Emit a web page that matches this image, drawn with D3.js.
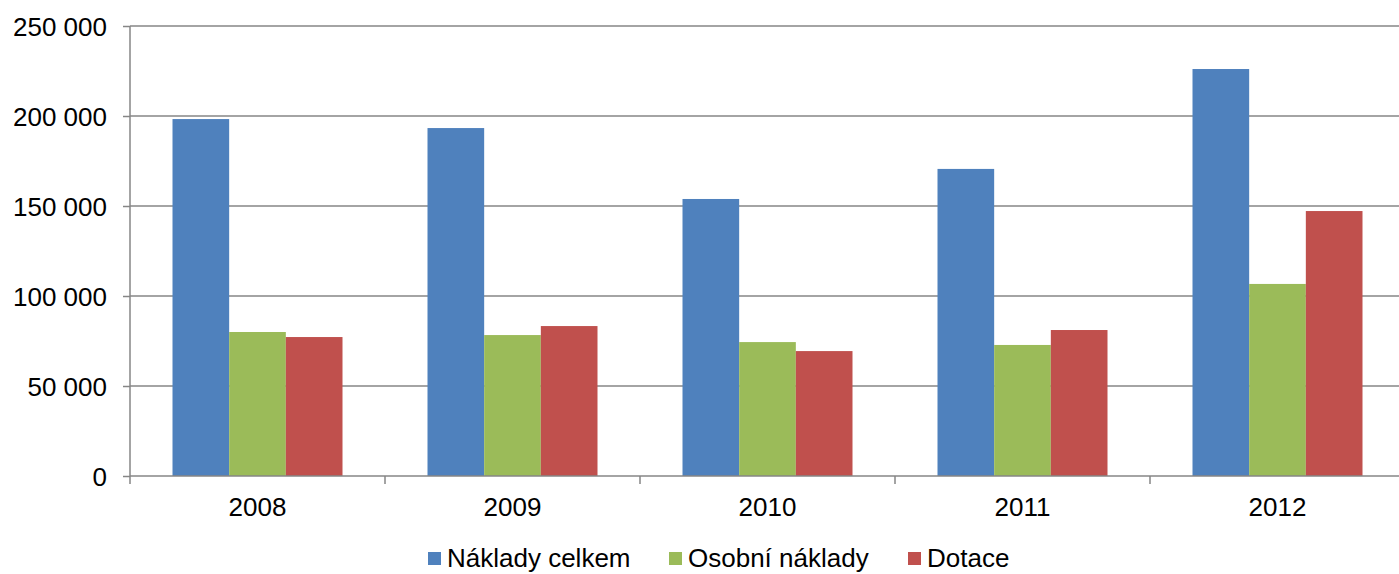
<!DOCTYPE html>
<html>
<head>
<meta charset="utf-8">
<script src="https://cdn.jsdelivr.net/npm/d3@7"></script>
<style>
  html, body { margin: 0; padding: 0; background: #fff; overflow: hidden; }
  svg { display: block; font-family: "Liberation Sans", Arial, sans-serif; }
</style>
</head>
<body>
<svg id="chart" width="1399" height="574"></svg>
<script>
const categories = ["2008", "2009", "2010", "2011", "2012"];
const seriesNames = ["Náklady celkem", "Osobní náklady", "Dotace"];
const nakladyCelkem = [198300, 193300, 153900, 170600, 226100];
const osobniNaklady = [80000, 78300, 74400, 72800, 106700];
const dotace = [77200, 83300, 69400, 81100, 147200];
const yTicks = [0, 50000, 100000, 150000, 200000, 250000];
const colors = ["#4F81BD", "#9BBB59", "#C0504D"];

(function () {
const seriesValues = [nakladyCelkem, osobniNaklady, dotace];
const svg = d3.select("#chart");
const pLeft = 130, pRight = 1405, pTop = 26, pBottom = 476;
const axisColor = "#868686";

const x = d3.scaleBand().domain(categories).range([pLeft, pRight]).padding(0);
const xInner = d3.scaleBand().domain(seriesNames)
  .range([x.bandwidth() / 6, x.bandwidth() * 5 / 6]).padding(0);
const y = d3.scaleLinear().domain([0, 250000]).range([pBottom, pTop]);

const fmt = v => d3.format(",")(v).replace(/,/g, " ");

// gridlines
svg.append("g")
  .selectAll("line").data(yTicks.filter(d => d > 0)).join("line")
  .attr("x1", pLeft).attr("x2", 1399)
  .attr("y1", d => y(d)).attr("y2", d => y(d))
  .attr("stroke", axisColor).attr("stroke-width", 1.5);

// bars
const groups = svg.append("g").selectAll("g").data(categories).join("g")
  .attr("transform", d => `translate(${x(d)},0)`);
groups.selectAll("rect")
  .data((c, i) => seriesNames.map((s, j) => ({ s, v: seriesValues[j][i], j })))
  .join("rect")
  .attr("x", d => xInner(d.s))
  .attr("width", xInner.bandwidth())
  .attr("y", d => y(d.v))
  .attr("height", d => pBottom - y(d.v))
  .attr("fill", d => colors[d.j]);

// y axis
const yAxis = d3.axisLeft(y).tickValues(yTicks).tickFormat(fmt).tickSize(7).tickPadding(16);
const gy = svg.append("g").attr("transform", `translate(${pLeft},0)`).call(yAxis);
gy.select(".domain").attr("stroke", axisColor).attr("stroke-width", 1.5).attr("d", `M0,${pTop}V${pBottom + 8}`);
gy.selectAll(".tick line").attr("stroke", axisColor).attr("stroke-width", 1.5);
gy.selectAll(".tick text").attr("font-size", 26).attr("fill", "#000")
  .attr("font-family", "Liberation Sans, Arial, sans-serif").attr("dy", "0.35em");

// x axis
const xAxis = d3.axisBottom(x).tickSize(0).tickPadding(22);
const gx = svg.append("g").attr("transform", `translate(0,${pBottom})`).call(xAxis);
gx.select(".domain").attr("stroke", axisColor).attr("stroke-width", 1.5).attr("d", `M${pLeft},0H1399`);
gx.selectAll(".tick text").attr("font-size", 26).attr("fill", "#000")
  .attr("font-family", "Liberation Sans, Arial, sans-serif").attr("dy", "0.71em");
// category separators
svg.append("g").selectAll("line").data(categories.slice(1))
  .join("line")
  .attr("x1", d => x(d)).attr("x2", d => x(d))
  .attr("y1", pBottom).attr("y2", pBottom + 8)
  .attr("stroke", axisColor).attr("stroke-width", 1.5);

// legend
const legendX = [428, 669, 908];
const leg = svg.append("g").selectAll("g").data(seriesNames).join("g")
  .attr("transform", (d, i) => `translate(${legendX[i]},0)`);
leg.append("rect").attr("x", 0).attr("y", 552).attr("width", 13).attr("height", 13)
  .attr("fill", (d, i) => colors[i]);
leg.append("text").attr("x", 19).attr("y", 567).attr("font-size", 26).attr("fill", "#000")
  .text(d => d);
})();
</script>
</body>
</html>
